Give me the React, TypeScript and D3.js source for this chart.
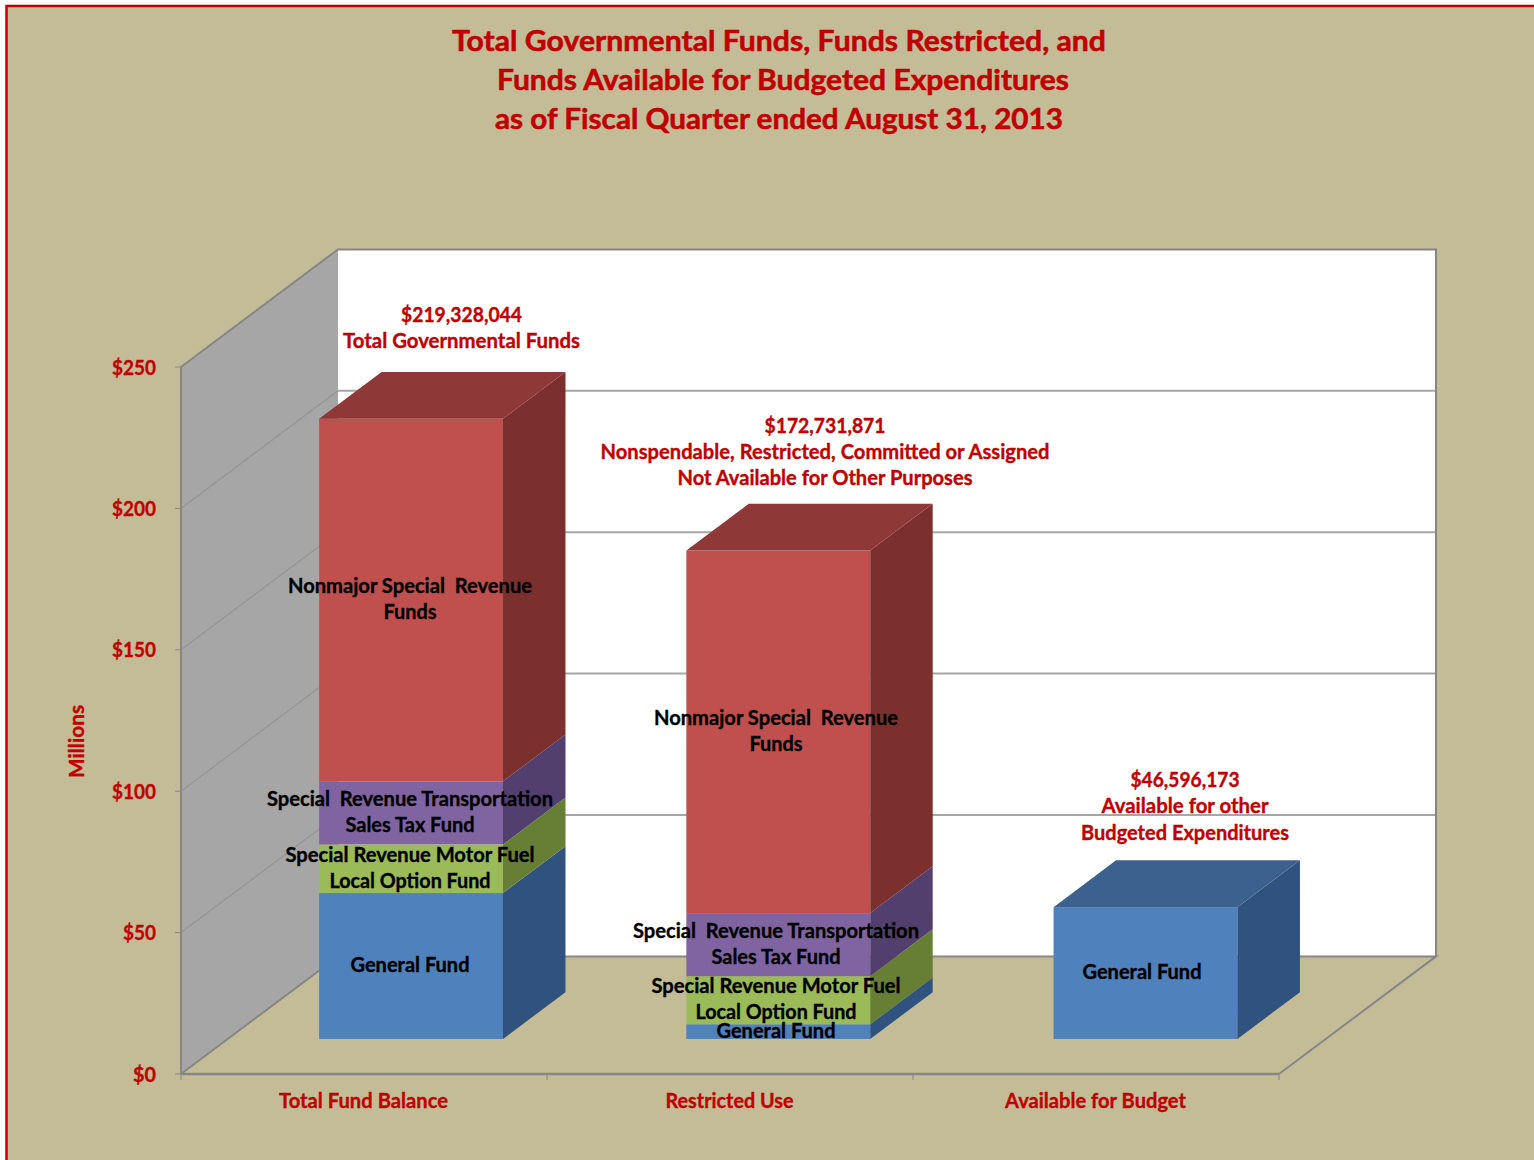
import React from "react";
import * as d3 from "d3";

const categories = ["Total Fund Balance", "Restricted Use", "Available for Budget"];
const seriesNames = ["General Fund", "Motor Fuel", "Transportation", "Nonmajor"];
const generalFund = [51.6, 5.2, 46.6];
const motorFuel = [17.2, 17.0, 0];
const transportation = [22.3, 22.3, 0];
const nonmajor = [128.2, 128.2, 0];
const yTicks = [0, 50, 100, 150, 200, 250];
const titleLines = [
  "Total Governmental Funds, Funds Restricted, and",
  "Funds Available for Budgeted Expenditures",
  "as of Fiscal Quarter ended August 31, 2013",
];
const segmentLabels = [
  ["General Fund"],
  ["Special Revenue Motor Fuel", "Local Option Fund"],
  ["Special  Revenue Transportation", "Sales Tax Fund"],
  ["Nonmajor Special  Revenue", "Funds"],
];
const calloutTotal = ["$219,328,044", "Total Governmental Funds"];
const calloutRestricted = [
  "$172,731,871",
  "Nonspendable, Restricted, Committed or Assigned",
  "Not Available for Other Purposes",
];
const calloutAvailable = ["$46,596,173", "Available for other", "Budgeted Expenditures"];

// text widths in the reference, so the substitute font occupies the same room
const widths: Record<string, number> = {
  [titleLines[0]]: 654, [titleLines[1]]: 572, [titleLines[2]]: 568,
  "$219,328,044": 121, "Total Governmental Funds": 237,
  "$172,731,871": 121, "Nonspendable, Restricted, Committed or Assigned": 449,
  "Not Available for Other Purposes": 295,
  "$46,596,173": 109, "Available for other": 167, "Budgeted Expenditures": 208,
  "General Fund": 119, "Special Revenue Motor Fuel": 249, "Local Option Fund": 161,
  "Special  Revenue Transportation": 286, "Sales Tax Fund": 129,
  "Nonmajor Special  Revenue": 244, "Funds": 53,
  "Total Fund Balance": 169, "Restricted Use": 128, "Available for Budget": 181,
  "Millions": 73, "$0": 23, "$50": 33, "$100": 44, "$150": 44, "$200": 44, "$250": 44,
};

const RED = "#c00000";
const BG = "#c4bc96";
const AXIS = "#868686";
const FONT = "Lato, 'Open Sans', sans-serif";
const front = ["#4f81bd", "#9bbb59", "#8064a2", "#c0504d"];
const side = ["#2f527e", "#667f35", "#523f6d", "#7c302e"];
const top = ["#3c618f", "#7f9a45", "#654f85", "#8e3938"];

const y = d3.scaleLinear().domain([0, 250]).range([1074, 367]);
const xAxis = d3.scaleBand<string>().domain(categories).range([181, 1279]);
const xBars = d3.scaleBand<string>().domain(categories).range([181, 1282]).paddingInner(0.4993).paddingOuter(0.2487);
const DX = 157;
const DY = -117.6;
const Z_FRONT = 0.298;
const Z_BACK = 0.696;
const poly = (pts: [number, number][]) => d3.line()(pts) + "Z";

function T({ s, x, y: yy, size = 20, color = RED, anchor = "middle", rotate }: any) {
  const emb = size > 25 ? 0.55 : 0.35;
  return (
    <text
      x={x}
      y={yy}
      fontFamily={FONT}
      fontWeight={700}
      fontSize={size}
      fill={color}
      stroke={color}
      strokeWidth={emb}
      textAnchor={anchor}
      textLength={widths[s]}
      lengthAdjust="spacingAndGlyphs"
      transform={rotate ? `rotate(${rotate} ${x} ${yy})` : undefined}
      style={{ whiteSpace: "pre" }}
    >
      {s}
    </text>
  );
}

export default function App() {
  const stacked = d3
    .stack<string>()
    .keys(seriesNames)
    .value((c, key) => {
      const i = categories.indexOf(c);
      return [generalFund, motorFuel, transportation, nonmajor][seriesNames.indexOf(key)][i];
    })(categories);

  const x0 = 181, x1 = 1279, y0 = y(0), yT = y(250);
  const topIdx = (ci: number) => {
    let t = 0;
    stacked.forEach((l, si) => { if (l[ci][1] > l[ci][0]) t = si; });
    return t;
  };

  return (
    <svg width={1534} height={1160} style={{ position: "absolute", left: 0, top: 0, display: "block" }}>
      <rect width={1534} height={1160} fill="#ffffff" />
      <rect x={6.5} y={6} width={1560} height={1190} fill={BG} stroke={RED} strokeWidth={2.5} />

      {titleLines.map((s, i) => (
        <T key={s} s={s} x={[779, 783, 779][i]} y={50.5 + i * 39} size={29} />
      ))}

      {/* back wall, side wall */}
      <path d={poly([[x0 + DX, yT + DY], [x1 + DX, yT + DY], [x1 + DX, y0 + DY], [x0 + DX, y0 + DY]])} fill="#ffffff" />
      <path d={poly([[x0, yT], [x0 + DX, yT + DY], [x0 + DX, y0 + DY], [x0, y0]])} fill="#a6a6a6" />
      {yTicks.slice(1, -1).map((t) => (
        <g key={t}>
          <line x1={x0} x2={x0 + DX} y1={y(t)} y2={y(t) + DY} stroke="#959595" strokeWidth={1.2} />
          <line x1={x0 + DX} x2={x1 + DX} y1={y(t) + DY} y2={y(t) + DY} stroke="#a6a6a6" strokeWidth={2} />
        </g>
      ))}
      {/* floor */}
      <path d={poly([[x0, y0], [x1, y0], [x1 + DX, y0 + DY], [x0 + DX, y0 + DY]])} fill={BG} />
      <path
        d={`M${x0},${y0}L${x0 + DX},${y0 + DY}L${x1 + DX},${y0 + DY}L${x1},${y0}`}
        fill="none" stroke={AXIS} strokeWidth={2}
      />
      <path
        d={`M${x0},${y0}L${x0},${yT}L${x0 + DX},${yT + DY}L${x1 + DX},${yT + DY}L${x1 + DX},${y0 + DY}`}
        fill="none" stroke={AXIS} strokeWidth={2}
      />
      <line x1={x0} x2={x1} y1={y0} y2={y0} stroke={AXIS} strokeWidth={2.5} />
      {yTicks.map((t) => (
        <g key={t}>
          <line x1={x0 - 6} x2={x0} y1={y(t)} y2={y(t)} stroke={AXIS} strokeWidth={1} />
          <T s={`$${t}`} x={156} y={y(t) + 7.5} anchor="end" />
        </g>
      ))}
      {[...categories.map((c) => xAxis(c)!), x1].map((v) => (
        <line key={v} x1={v} x2={v} y1={y0} y2={y0 + 6} stroke={AXIS} strokeWidth={1} />
      ))}
      {categories.map((c) => (
        <T key={c} s={c} x={xAxis(c)! + xAxis.bandwidth() / 2 - 0.5} y={1107.5} />
      ))}
      <T s="Millions" x={84} y={741.5} rotate={-90} />

      {/* bars */}
      {categories.map((c, ci) => {
        const l = xBars(c)! + DX * Z_FRONT;
        const r = l + xBars.bandwidth();
        const fdy = DY * Z_FRONT;
        const bdx = DX * (Z_BACK - Z_FRONT), bdy = DY * (Z_BACK - Z_FRONT);
        const tIdx = topIdx(ci);
        return (
          <g key={c}>
            {stacked.map((layer, si) => {
              const [a, b] = layer[ci];
              if (b <= a) return null;
              const ya = y(a) + fdy, yb = y(b) + fdy;
              return (
                <g key={si}>
                  <rect x={l} y={yb} width={r - l} height={ya - yb} fill={front[si]} />
                  <path d={poly([[r, ya], [r + bdx, ya + bdy], [r + bdx, yb + bdy], [r, yb]])} fill={side[si]} />
                  {si === tIdx && (
                    <path d={poly([[l, yb], [l + bdx, yb + bdy], [r + bdx, yb + bdy], [r, yb]])} fill={top[si]} />
                  )}
                </g>
              );
            })}
          </g>
        );
      })}

      {/* segment labels */}
      {categories.map((c, ci) =>
        stacked.map((layer, si) => {
          const [a, b] = layer[ci];
          if (b <= a) return null;
          const cy = y((a + b) / 2) + DY * Z_FRONT;
          const cx = xAxis(c)! + xAxis.bandwidth() / 2 + 46;
          const lines = segmentLabels[si];
          return lines.map((s, li) => (
            <T key={s + ci} s={s} x={cx} y={cy + 6 + (li - (lines.length - 1) / 2) * 26} color="#000000" />
          ));
        })
      )}

      {/* callouts */}
      {calloutTotal.map((s, i) => <T key={s} s={s} x={461.5} y={321.5 + i * 26.5} />)}
      {calloutRestricted.map((s, i) => <T key={s} s={s} x={825} y={432.5 + i * 26} />)}
      {calloutAvailable.map((s, i) => <T key={s} s={s} x={1185} y={786.5 + i * 26.5} />)}
    </svg>
  );
}
